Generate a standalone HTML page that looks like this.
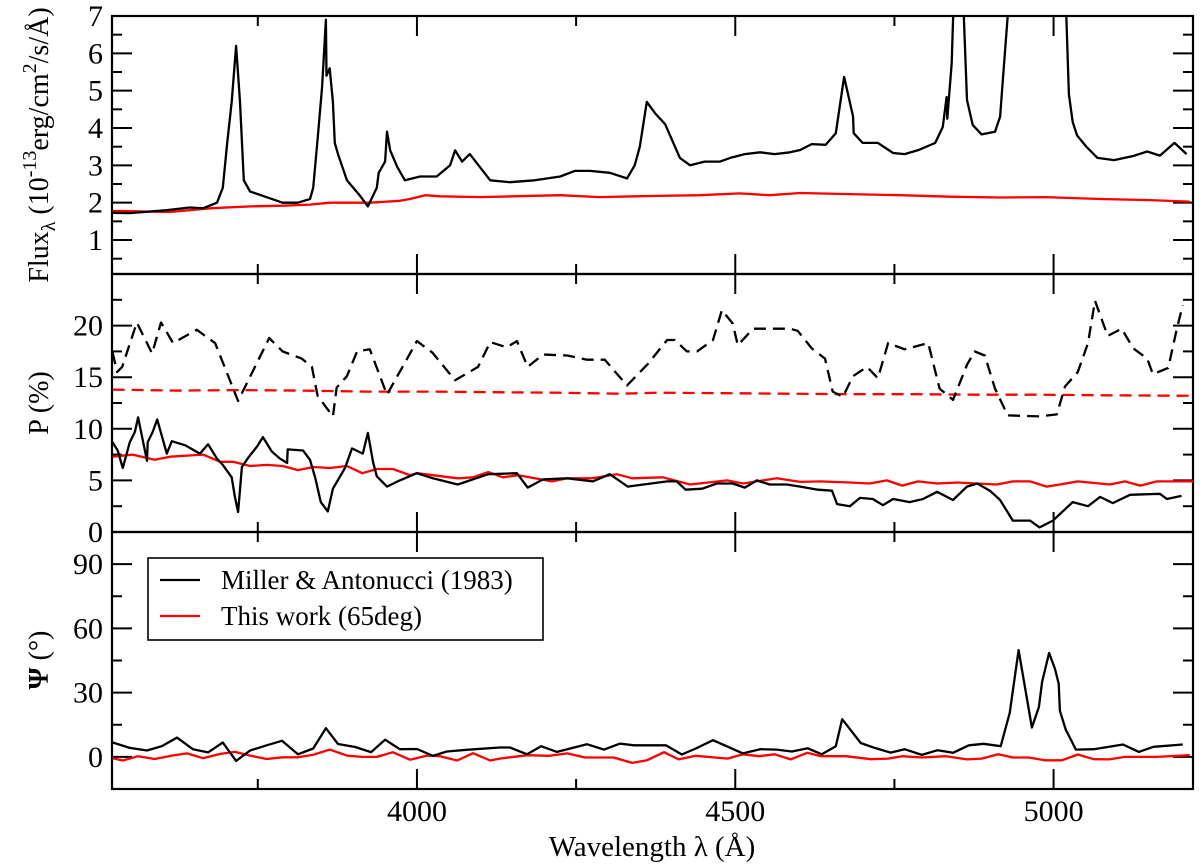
<!DOCTYPE html>
<html><head><meta charset="utf-8"><style>
html,body{margin:0;padding:0;background:#fff}
svg{display:block}
svg text{font-family:"Liberation Serif","Times New Roman",serif}
</style></head><body>
<svg id="chart" width="1200" height="867" viewBox="0 0 1200 867" xmlns="http://www.w3.org/2000/svg" font-family="Liberation Serif, serif">
<defs>
<clipPath id="c1"><rect x="112" y="16" width="1081" height="258"/></clipPath>
<clipPath id="c2"><rect x="112" y="274" width="1081" height="258"/></clipPath>
<clipPath id="c3"><rect x="112" y="532" width="1081" height="257"/></clipPath>
</defs>
<g id="axes"></g>
<g id="series"></g>
<text x="652" y="856" font-size="29" text-anchor="middle">Wavelength λ (Å)</text>
<text transform="translate(48,145) rotate(-90)" font-size="28" text-anchor="middle">Flux<tspan font-size="20" dy="7">λ</tspan><tspan dy="-7"> (10</tspan><tspan font-size="20" dy="-12">-13</tspan><tspan dy="12">erg/cm</tspan><tspan font-size="20" dy="-12">2</tspan><tspan dy="12">/s/Å)</tspan></text>
<text transform="translate(48,403) rotate(-90)" font-size="28" text-anchor="middle">P (%)</text>
<text transform="translate(48,660) rotate(-90)" font-size="28" text-anchor="middle" font-weight="bold">Ψ <tspan font-weight="normal">(°)</tspan></text>
<g>
<rect x="148" y="558" width="395" height="82" fill="#fff" stroke="#000" stroke-width="1.6"/>
<line x1="160" y1="580" x2="200" y2="580" stroke="#000" stroke-width="2.2"/>
<text x="221" y="589" font-size="27">Miller &amp; Antonucci (1983)</text>
<line x1="160" y1="616" x2="200" y2="616" stroke="#f00" stroke-width="2.2"/>
<text x="221" y="625" font-size="27">This work (65deg)</text>
</g>
</svg>
<script>
// ---- data ----
const fluxBlackWl=[3522,3549,3607,3643,3664,3686,3695,3702,3709,3716,3722,3728,3738,3789,3813,3832,3837,3844,3851,3857,3858,3863,3868,3871,3876,3890,3910,3923,3937,3940,3950,3953,3958,3969,3981,4005,4031,4052,4060,4071,4083,4115,4146,4185,4225,4248,4272,4303,4330,4342,4350,4361,4374,4390,4413,4429,4452,4476,4492,4515,4539,4562,4586,4602,4620,4642,4658,4671,4685,4686,4700,4724,4748,4766,4788,4814,4826,4832,4833,4840,4845,4850,4856,4859,4864,4873,4887,4908,4916,4920,4928,4934,4963,5010,5019,5024,5030,5037,5052,5069,5095,5125,5147,5167,5190,5209];
const fluxBlack=[1.73,1.72,1.80,1.87,1.85,2.0,2.4,3.6,4.7,6.2,4.7,2.6,2.3,2.0,2.0,2.1,2.4,3.7,5.1,6.9,5.4,5.6,4.7,3.6,3.3,2.6,2.2,1.9,2.4,2.8,3.1,3.9,3.4,2.96,2.6,2.7,2.7,3.0,3.4,3.1,3.3,2.6,2.55,2.6,2.7,2.85,2.85,2.8,2.65,3.0,3.5,4.7,4.4,4.1,3.2,3.0,3.1,3.1,3.2,3.3,3.35,3.3,3.35,3.41,3.57,3.55,3.86,5.37,4.32,3.86,3.6,3.6,3.33,3.3,3.41,3.6,4.03,4.83,4.25,5.74,8.5,15,9,7,4.75,4.08,3.83,3.9,4.3,5.2,7.0,10,15,12,7.5,4.9,4.16,3.8,3.49,3.2,3.14,3.25,3.37,3.26,3.6,3.3];
const fluxRedWl=[3522,3612,3675,3738,3789,3832,3863,3926,3973,3989,4013,4036,4099,4225,4287,4366,4444,4507,4554,4602,4680,4759,4837,4916,4986,5073,5151,5214];
const fluxRed=[1.78,1.75,1.85,1.9,1.92,1.95,2.0,2.0,2.05,2.1,2.2,2.17,2.15,2.2,2.15,2.18,2.2,2.25,2.2,2.26,2.23,2.2,2.16,2.14,2.15,2.1,2.07,2.03];
const pBlackWl=[3522,3530,3538,3549,3557,3562,3576,3577,3585,3592,3607,3615,3636,3659,3672,3686,3695,3709,3714,3719,3725,3735,3749,3758,3772,3785,3796,3797,3821,3832,3840,3849,3860,3868,3887,3898,3915,3923,3931,3937,3953,3973,4000,4025,4064,4112,4157,4174,4198,4236,4276,4303,4331,4393,4408,4422,4448,4471,4496,4515,4534,4554,4581,4602,4630,4652,4660,4680,4696,4716,4732,4748,4774,4795,4817,4842,4864,4880,4900,4916,4936,4963,4978,4999,5030,5054,5073,5093,5120,5167,5178,5201];
const pBlack=[8.7,7.9,6.2,8.7,9.7,11.1,6.9,8.7,9.7,10.9,7.6,8.8,8.4,7.6,8.5,7.1,6.5,5.3,3.4,1.94,6.3,7.2,8.3,9.2,7.8,7.1,6.7,8.0,7.9,7.0,5.3,2.9,2.0,4.2,6.2,8.1,7.6,9.6,6.8,5.4,4.4,5.0,5.7,5.2,4.6,5.6,5.7,4.3,5.1,5.2,4.9,5.6,4.4,4.9,4.9,4.1,4.2,4.7,4.7,4.3,5.0,4.6,4.6,4.4,4.1,4.0,2.7,2.5,3.3,3.2,2.6,3.2,2.9,3.2,3.9,3.1,4.4,4.7,4.0,3.1,1.1,1.1,0.45,1.1,2.9,2.5,3.4,2.8,3.6,3.7,3.2,3.5];
const pRedWl=[3522,3553,3588,3612,3639,3664,3691,3711,3738,3764,3789,3813,3837,3863,3890,3914,3937,3962,3989,4000,4064,4088,4112,4135,4159,4212,4236,4275,4314,4338,4386,4429,4487,4512,4565,4602,4633,4680,4711,4738,4762,4787,4817,4848,4911,4936,4963,4989,5010,5038,5088,5112,5136,5162,5219];
const pRed=[7.3,7.5,7.0,7.3,7.4,7.5,6.8,6.8,6.4,6.5,6.4,6.0,6.3,6.2,6.4,5.7,6.1,6.1,5.5,5.7,5.2,5.3,5.8,5.3,5.5,4.9,5.2,5.2,5.6,5.2,5.3,4.6,5.0,4.7,5.2,4.85,4.9,4.8,4.7,5.0,4.5,4.9,4.7,4.8,4.6,4.9,4.9,4.4,4.6,4.9,4.6,4.9,4.5,4.9,4.9];
const pBlackDashWl=[3522,3529,3537,3560,3584,3598,3617,3654,3683,3719,3768,3789,3819,3835,3844,3868,3874,3890,3906,3926,3953,4000,4024,4060,4096,4115,4141,4157,4174,4198,4236,4267,4295,4330,4363,4393,4405,4424,4440,4465,4479,4496,4504,4528,4586,4598,4620,4641,4653,4669,4685,4707,4724,4740,4766,4803,4821,4842,4864,4876,4892,4908,4928,4978,5005,5018,5038,5054,5065,5085,5107,5125,5147,5156,5180,5194,5203];
const pBlackDash=[17.4,15.5,16.0,20.3,17.3,20.3,18.3,19.6,18.3,12.7,18.8,17.5,16.8,16.0,13.2,11.2,14.0,15.1,17.5,17.7,13.3,18.5,17.4,14.7,16.0,18.4,17.9,18.5,16.0,17.2,17.1,16.7,16.7,14.2,16.3,18.6,18.6,17.5,17.5,18.6,21.5,20.2,18.1,19.7,19.7,19.5,17.8,16.8,13.6,13.1,15.1,16.0,14.9,18.3,17.7,18.3,13.9,12.8,16.2,17.5,17.1,13.9,11.3,11.2,11.4,14.1,15.5,18.3,22.4,19.0,19.7,17.8,16.8,15.3,15.9,19.8,22.0];
const pRedDashWl=[3522,3620,3720,3820,3920,4020,4120,4220,4320,4380,4480,4580,4680,4780,4880,4980,5080,5219];
const pRedDash=[13.8,13.7,13.75,13.7,13.6,13.6,13.55,13.5,13.4,13.5,13.45,13.4,13.35,13.35,13.3,13.3,13.25,13.2];
const psiBlackWl=[3522,3549,3576,3599,3623,3648,3672,3695,3716,3738,3764,3788,3813,3837,3857,3876,3903,3928,3950,3973,4000,4025,4047,4078,4130,4146,4173,4195,4220,4267,4294,4319,4341,4391,4416,4438,4465,4512,4539,4565,4589,4614,4636,4658,4668,4697,4719,4744,4766,4793,4818,4842,4867,4890,4917,4931,4945,4966,4977,4982,4993,5002,5008,5010,5019,5035,5063,5109,5134,5157,5203];
const psiBlack=[6.7,4.2,3.0,5.0,9.0,3.6,2.1,6.7,-1.9,3.0,5.4,7.5,1.2,3.9,13.4,6.0,4.6,2.2,8.0,3.6,3.7,0.5,2.5,3.3,4.4,4.4,1.2,5.0,2.3,5.9,3.4,6.2,5.4,5.4,1.1,3.9,7.8,1.6,3.6,3.4,2.5,4.0,1.2,5.0,17.6,6.5,4.2,2.0,3.6,0.9,3.1,1.9,5.4,6.1,5.0,20.5,49.8,13.7,23.3,35,48.5,41.2,34.2,21.5,12.8,3.4,3.6,5.8,2.3,4.7,5.8];
const psiRedWl=[3522,3538,3562,3588,3615,3639,3664,3691,3714,3738,3764,3789,3813,3837,3863,3890,3914,3937,3962,3989,4016,4036,4063,4088,4115,4130,4173,4207,4236,4264,4309,4338,4361,4388,4411,4438,4488,4512,4537,4562,4587,4613,4635,4674,4713,4740,4762,4793,4831,4864,4887,4913,4936,4961,4986,5013,5038,5063,5087,5112,5161,5214];
const psiRed=[-0.6,-1.7,0.3,-1.0,0.6,1.6,-0.6,1.4,2.3,0.6,-1.0,-0.2,-0.2,1.0,3.4,0.6,0,0,2.2,-1.3,0.6,0.3,-1.7,1.7,-1.7,-0.8,0.8,0.5,1.6,-0.3,-0.3,-2.8,-1.6,2.2,-1.2,0.5,-0.8,1.2,0.3,1.2,-1.2,1.9,0.3,0.3,-1.1,-0.8,0.3,-0.3,0.3,-1.2,-0.8,1.2,-0.3,-0.3,-1.6,-1.6,1.1,-1.1,-1.2,0,0,0.8];
const xMajorTicks=[4000,4500,5000];
const xMinorTicks=[3750,4250,4750];
const fluxTicks=[1,2,3,4,5,6,7];
const pTicks=[0,5,10,15,20];
const psiTicks=[0,30,60,90];

// ---- scales ----
const L=112,R=1193,W0=3521,W1=5219;
function X(w){return L+(w-W0)/(W1-W0)*(R-L);}
const panels=[
 {top:16,bot:274,d0:0.09,d1:7,clip:'c1'},
 {top:274,bot:532,d0:0,d1:25,clip:'c2'},
 {top:532,bot:789,d0:-15,d1:105,clip:'c3'}];
function Y(p,v){return p.bot-(v-p.d0)/(p.d1-p.d0)*(p.bot-p.top);}
const NS='http://www.w3.org/2000/svg';
function mk(tag,attrs,parent){const e=document.createElementNS(NS,tag);for(const k in attrs)e.setAttribute(k,attrs[k]);parent.appendChild(e);return e;}
const axes=document.getElementById('axes'), ser=document.getElementById('series');

function tick(x1,y1,x2,y2,name){
 const t=mk('line',{x1:x1,y1:y1,x2:x2,y2:y2,stroke:'#000','stroke-width':2},axes);
 
 
}
panels.forEach((p,i)=>{
 const fr=mk('rect',{x:L,y:p.top,width:R-L,height:p.bot-p.top,fill:'none',stroke:'#000','stroke-width':2.2},axes);
 
 
 xMajorTicks.forEach(w=>{tick(X(w),p.top,X(w),p.top+20,'x-major-tick');tick(X(w),p.bot,X(w),p.bot-20,'x-major-tick');});
 xMinorTicks.forEach(w=>{tick(X(w),p.top,X(w),p.top+10,'x-minor-tick');tick(X(w),p.bot,X(w),p.bot-10,'x-minor-tick');});
});
function yTicks(p,ticks,step,minorStep,label){
 for(let v=Math.ceil(p.d0/minorStep)*minorStep; v<=p.d1+1e-9; v+=minorStep){
  const y=Y(p,v); if(y<p.top+1||y>p.bot-1) continue;
  const major=Math.abs(v/step-Math.round(v/step))<1e-6;
  const len=major?20:10;
  tick(L,y,L+len,y,'y-tick');tick(R,y,R-len,y,'y-tick');
 }
 ticks.forEach(v=>{
  const t=mk('text',{x:103,y:Y(p,v)+10,'font-size':30,'text-anchor':'end','font-family':'Liberation Serif, serif'},axes);
  t.textContent=v;
  
  
 });
}
yTicks(panels[0],fluxTicks,1,0.5,'flux');
yTicks(panels[1],pTicks,5,2.5,'p');
yTicks(panels[2],psiTicks,30,15,'psi');
xMajorTicks.forEach(w=>{
 const t=mk('text',{x:X(w),y:821,'font-size':30,'text-anchor':'middle','font-family':'Liberation Serif, serif'},axes);
 t.textContent=w;
 
 
});
function line(p,wl,vals,color,dash,name){
 const d=wl.map((w,i)=>(i?'L':'M')+X(w).toFixed(1)+','+Y(p,vals[i]).toFixed(1)).join('');
 const a={d:d,fill:'none',stroke:color,'stroke-width':2.3,'stroke-linejoin':'round','clip-path':'url(#'+p.clip+')'};
 if(dash)a['stroke-dasharray']='12,7';
 const e=mk('path',a,ser);
 
 
}
line(panels[0],fluxRedWl,fluxRed,'#f00',false,'flux-this-work-line');
line(panels[0],fluxBlackWl,fluxBlack,'#000',false,'flux-miller-line');
line(panels[1],pRedDashWl,pRedDash,'#f00',true,'p-this-work-dashed-line');
line(panels[1],pBlackDashWl,pBlackDash,'#000',true,'p-miller-dashed-line');
line(panels[1],pRedWl,pRed,'#f00',false,'p-this-work-line');
line(panels[1],pBlackWl,pBlack,'#000',false,'p-miller-line');
line(panels[2],psiRedWl,psiRed,'#f00',false,'psi-this-work-line');
line(panels[2],psiBlackWl,psiBlack,'#000',false,'psi-miller-line');
</script>
</body></html>
